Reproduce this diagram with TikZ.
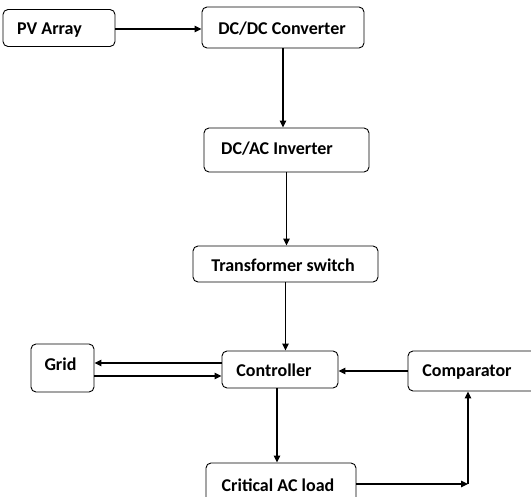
\documentclass[tikz,border=0pt]{standalone}
\usepackage{fontspec}
\setmainfont{Carlito}
\usetikzlibrary{arrows.meta}
\tikzset{
  box/.style={draw=black, line width=0.9pt, rounded corners=5pt, rectangle, inner sep=0pt},
  lbl/.style={inner sep=0pt, font=\fontsize{18}{21}\selectfont\bfseries, anchor=center},
  arr/.style={line width=1.1pt, -{Triangle[length=7pt,width=6.5pt]}},
}
\begin{document}
\begin{tikzpicture}[x=1pt,y=-1pt]
\useasboundingbox (0,0) rectangle (531,497);
\clip (0,0) rectangle (531,497);
% boxes
\node[box, minimum width=112pt, minimum height=37pt] (pv)   at (59,28) {};
\node[box, minimum width=162pt, minimum height=41pt] (dcdc) at (283,27.5) {};
\node[box, minimum width=165pt, minimum height=44pt] (dcac) at (286.5,150) {};
\node[box, minimum width=185pt, minimum height=36pt] (ts)   at (285.5,264) {};
\node[box, minimum width=116pt, minimum height=37pt] (ctrl) at (280,369.5) {};
\node[box, minimum width=63pt,  minimum height=48pt] (grid) at (62.5,368) {};
\node[box, minimum width=132pt, minimum height=40pt] (comp) at (474,371) {};
\node[box, minimum width=150pt, minimum height=42pt] (load) at (281,484) {};
% labels
\node[lbl] (tpv)   at (49.5,30.5) {PV Array};
\node[lbl] (tdcdc) at (282,28.5) {DC/DC Converter};
\node[lbl] (tdcac) at (277,149) {DC/AC Inverter};
\node[lbl] (tts)   at (283,265.5) {Transformer switch};
\node[lbl] (tctrl) at (274,370.5) {Controller};
\node[lbl] (tgrid) at (60.5,364) {Grid};
\node[lbl] (tcomp) at (467,372) {Comparator};
\node[lbl] (tload) at (278,485) {Critical AC load};
% connectors
\draw[arr] ([yshift=-1pt]pv.east) -- ([yshift=-1pt]pv.east -| dcdc.west);
\draw[arr] (dcdc.south) -- (dcdc.south |- dcac.north);
\draw[arr] (dcac.south) -- (dcac.south |- ts.north);
\draw[arr] (ts.south) -- (ts.south |- ctrl.north);
\draw[arr] ([xshift=-3pt]ctrl.south) -- ([xshift=-3pt]ctrl.south |- load.north);
\draw[arr] ([yshift=6.5pt]ctrl.west) -- ([yshift=6.5pt]ctrl.west -| grid.east);
\draw[arr] ([yshift=-6.5pt]ctrl.west -| grid.east) -- ([yshift=-6.5pt]ctrl.west);
\draw[arr] (comp.west) -- (comp.west -| ctrl.east);
\coordinate (corner) at (468,484);
\draw[arr] (load.east) -- (corner);
\draw[arr] (corner) -- (corner |- comp.south);
\end{tikzpicture}
\end{document}
